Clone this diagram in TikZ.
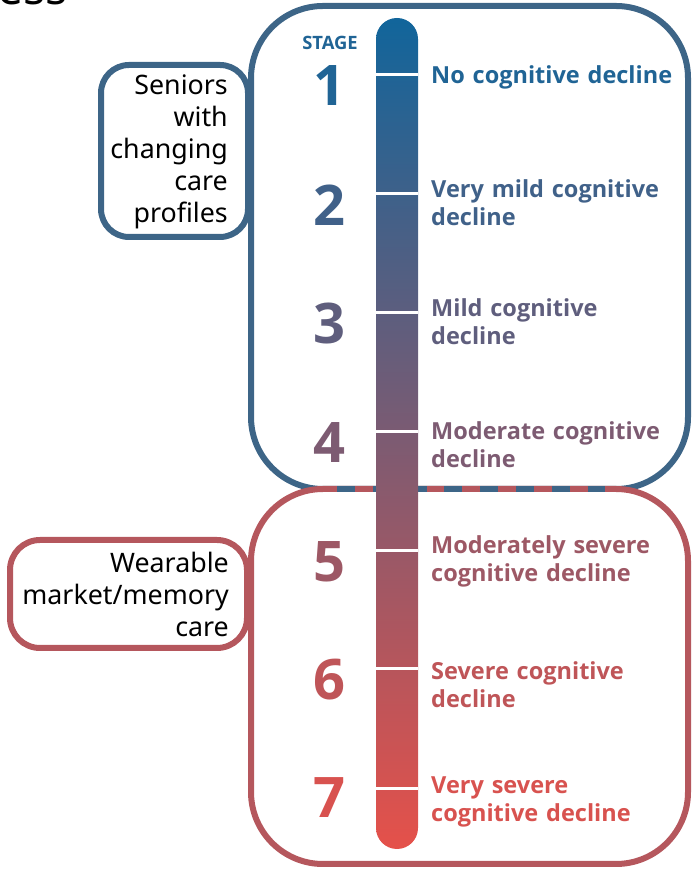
\documentclass[tikz,border=0pt]{standalone}
\usepackage{fontspec}
\setmainfont{Noto Sans}
\newfontfamily\lblfont{Open Sans}
\definecolor{boxblue}{HTML}{3D6587}
\definecolor{boxred}{HTML}{B5575D}
\definecolor{bartop}{HTML}{11659B}
\definecolor{barbot}{HTML}{E5514A}
\colorlet{s1}{barbot!7!bartop}
\colorlet{s2}{barbot!22!bartop}
\colorlet{s3}{barbot!37!bartop}
\colorlet{s4}{barbot!51!bartop}
\colorlet{s5}{barbot!66!bartop}
\colorlet{s6}{barbot!82!bartop}
\colorlet{s7}{barbot!94!bartop}
\tikzset{
  digit/.style={font=\lblfont\fontsize{56}{56}\selectfont\bfseries, inner sep=0},
  lbl/.style={font=\lblfont\fontsize{23.5}{28}\selectfont\bfseries, anchor=base west, align=left, inner sep=0, text width=265},
  side/.style={font=\fontsize{26.8}{32}\selectfont, align=right, inner sep=0, anchor=base east, text width=225},
  frame/.style={line width=6},
}
\begin{document}
\begin{tikzpicture}[x=1pt,y=1pt]
\useasboundingbox (0,0) rectangle (699,872);
% partial title
\node[font=\fontsize{46}{46}\selectfont, anchor=base west, inner sep=0] (ttl) at (-3,867) {ess};
% side boxes
\draw[boxblue, frame, rounded corners=28] (101,635) rectangle (248,807);
\draw[boxred, frame, rounded corners=30] (10,224) rectangle (247,332);
\node[side] (seniors) at (228,777) {Seniors\\with\\changing\\care\\profiles};
\node[side] (wear) at (229,299) {Wearable\\market/memory\\care};
% big boxes
\draw[boxblue, frame, rounded corners=72] (251,383) rectangle (688,866);
\draw[boxred, frame, rounded corners=72] (251,8) rectangle (688,383);
\draw[boxblue, frame, dash pattern=on 17.9 off 17.9] (337,383) -- (605,383);
% bar
\shade[top color=bartop, bottom color=barbot, rounded corners=21] (376,23) rectangle (418,854);
\foreach \y in {797,678,559,440,321,203,83}
  \draw[white, line width=3] (376,\y) -- (418,\y);
% stage labels
\node[font=\lblfont\fontsize{18.4}{18}\selectfont\bfseries, text=s1, inner sep=0] (stage) at (330,829) {STAGE};
\node[digit, text=s1] (n1) at (329,786) {1};
\node[digit, text=s2] (n2) at (329,666.5) {2};
\node[digit, text=s3] (n3) at (329,548) {3};
\node[digit, text=s4] (n4) at (329,429) {4};
\node[digit, text=s5] (n5) at (329,310) {5};
\node[digit, text=s6] (n6) at (329,192) {6};
\node[digit, text=s7] (n7) at (329,74) {7};
\node[lbl, text=s1] (l1) at (431,788) {No cognitive decline};
\node[lbl, text=s2] (l2) at (431,674) {Very mild cognitive\\decline};
\node[lbl, text=s3] (l3) at (431,555) {Mild cognitive\\decline};
\node[lbl, text=s4] (l4) at (431,432) {Moderate cognitive\\decline};
\node[lbl, text=s5] (l5) at (431,318) {Moderately severe\\cognitive decline};
\node[lbl, text=s6] (l6) at (431,192) {Severe cognitive\\decline};
\node[lbl, text=s7] (l7) at (431,78) {Very severe\\cognitive decline};
\end{tikzpicture}
\end{document}
